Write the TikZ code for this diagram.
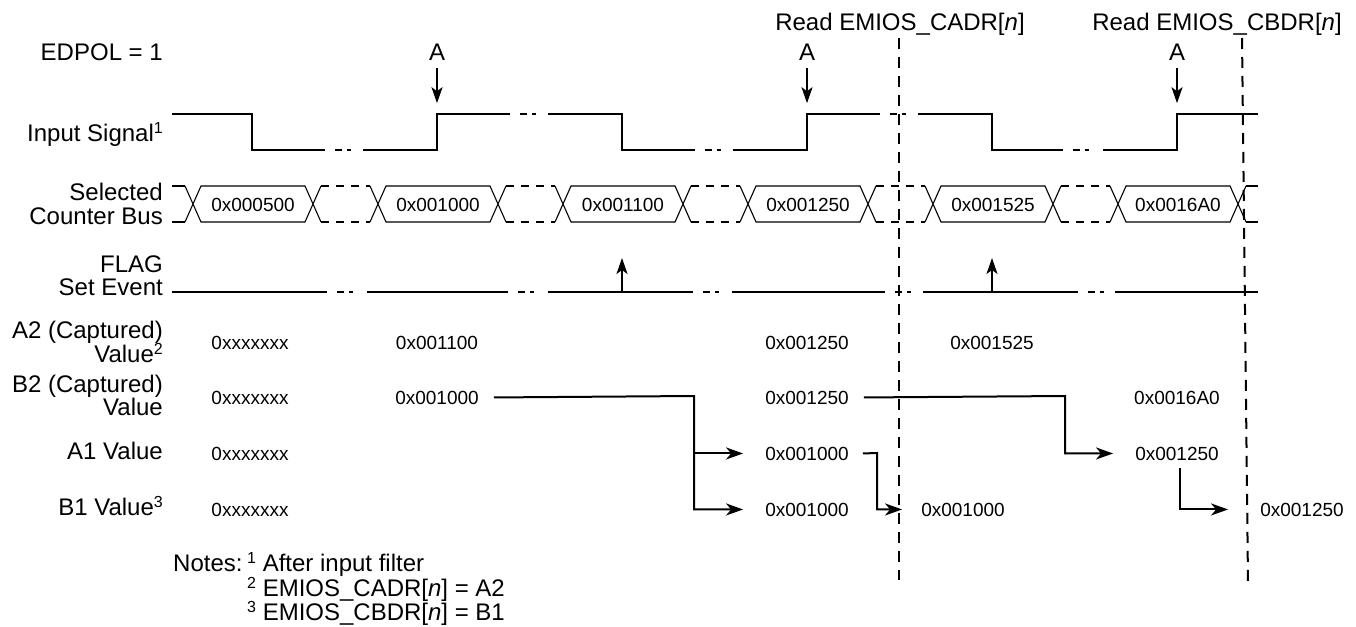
\documentclass[tikz,border=0pt]{standalone}
\usepackage{fontspec}
\setmainfont{Liberation Sans}
\usepackage{tikz}
\usetikzlibrary{calc,arrows.meta}

\newcommand{\supnum}[1]{\raisebox{8pt}{\fontsize{16}{16}\selectfont #1}}

\tikzset{
  lbl/.style={anchor=base east,inner sep=0pt,font=\fontsize{24}{26}\selectfont},
  note/.style={anchor=base west,inner sep=0pt,font=\fontsize{24}{26}\selectfont},
  val/.style={anchor=base,inner sep=0pt,font=\fontsize{19}{21}\selectfont},
  sig/.style={line width=2pt},
  bus/.style={line width=1.1pt},
  busdash/.style={bus,dash pattern=on 8pt off 7pt},
  rd/.style={line width=2pt,dash pattern=on 11pt off 8pt},
  tip/.style={-{Stealth[length=17pt,width=12pt,inset=5pt]}},
  tipsm/.style={-{Stealth[length=16pt,width=11pt,inset=4pt]}},
}

\begin{document}
\begin{tikzpicture}[x=1pt,y=-1pt]
  \useasboundingbox (0,0) rectangle (1356,626);

  % row labels
  \node[lbl] (edpol) at (163,60) {EDPOL = 1};
  \node[lbl] (insig) at (163,141) {Input Signal\supnum{1}};
  \node[lbl] (selbus) at (163,200) {Selected};
  \node[lbl] (selbus2) at (163,224) {Counter Bus};
  \node[lbl] (flag) at (163,272) {FLAG};
  \node[lbl] (flag2) at (163,295) {Set Event};
  \node[lbl] (capa) at (163,338) {A2 (Captured)};
  \node[lbl] (capa2) at (163,362) {Value\supnum{2}};
  \node[lbl] (capb) at (163,392) {B2 (Captured)};
  \node[lbl] (capb2) at (163,415) {Value};
  \node[lbl] (aone) at (163,459) {A1 Value};
  \node[lbl] (bone) at (163,515) {B1 Value\supnum{3}};

  % (I) input signal
  \draw[sig] (172,114) -| (252,150) -- (325,150);
  \draw[sig] (363,150) -| (437,114) -- (510,114);
  \draw[sig] (548,114) -| (622,150) -- (695,150);
  \draw[sig] (733,150) -| (807,114) -- (880,114);
  \draw[sig] (918,114) -| (992,150) -- (1063,150);
  \draw[sig] (1103,150) -| (1177,114) -- (1258,114);
  \foreach \a/\y in {325/150,510/114,695/150,880/114,1063/150}
    \draw[sig] (\a+10,\y) -- (\a+17,\y) (\a+22,\y) -- (\a+26,\y);
  \foreach \x [count=\i] in {437,807,1177}{
    \node[lbl,anchor=base] (edge\i) at (\x,60) {A};
    \draw[sig,tipsm] ([yshift=-8pt]edge\i.south) -- ++(0,35);
  }

  % (II) selected counter bus
  \draw[bus] (172,186) -- (185,186) (172,222) -- (185,222);
  \draw[bus] (1246,186) -- (1258,186) (1246,222) -- (1258,222);
  \foreach \k/\v in {0/0x000500,1/0x001000,2/0x001100,3/0x001250,4/0x001525,5/0x0016A0}{
    \pgfmathsetmacro\L{193+185*\k}
    \pgfmathsetmacro\R{\L+120}
    \draw[bus] (\L-8,186) -- (\L+8,222) -- (\R-8,222) -- (\R+8,186)
               (\L-8,222) -- (\L+8,186) -- (\R-8,186) -- (\R+8,222);
    \node[val] (bus\k) at (\L+60,211) {\v};
  }
  \foreach \k in {0,...,4}{
    \pgfmathsetmacro\R{313+185*\k}
    \draw[busdash] (\R+8,186) -- (\R+57,186) (\R+8,222) -- (\R+57,222);
  }

  % (III) flag set event
  \foreach \a/\b in {172/327,367/508,548/693,732/885,923/1078,1115/1258}
    \draw[sig] (\a,292) -- (\b,292);
  \foreach \a in {327,508,693,885,1078}
    \draw[sig] (\a+10,292) -- (\a+17,292) (\a+22,292) -- (\a+26,292);
  \foreach \x in {622,992}
    \draw[sig,tipsm] (\x,292) -- (\x,258);

  % (IV) captured values
  \node[val] (a2c1) at (250,349) {0xxxxxxx};
  \node[val] (a2c2) at (437,349) {0x001100};
  \node[val] (a2c3) at (807,349) {0x001250};
  \node[val] (a2c4) at (992,349) {0x001525};
  \node[val] (b2c1) at (250,404) {0xxxxxxx};
  \node[val] (b2c2) at (437,404) {0x001000};
  \node[val] (b2c3) at (807,404) {0x001250};
  \node[val] (b2c5) at (1177,404) {0x0016A0};
  \node[val] (a1c1) at (250,460) {0xxxxxxx};
  \node[val] (a1c3) at (807,460) {0x001000};
  \node[val] (a1c5) at (1177,460) {0x001250};
  \node[val] (b1c1) at (250,516) {0xxxxxxx};
  \node[val] (b1c3) at (807,516) {0x001000};
  \node[val] (b1c4) at (963,516) {0x001000};
  \node[val] (b1c6) at (1302,516) {0x001250};

  % transfers
  \coordinate (j1) at (694,396);
  \coordinate (j2) at (1065,396);
  \coordinate (j3) at (877,453);
  \draw[sig,tip] (b2c2.east) ++(15,0) -- (j1) |- ([xshift=-22pt]b1c3.west);
  \draw[sig,tip] (j1 |- a1c3.west) -- ([xshift=-22pt]a1c3.west);
  \draw[sig,tip] (b2c3.east) ++(15,0) -- (j2) |- ([xshift=-22pt]a1c5.west);
  \draw[sig,tip] (a1c3.east) ++(14,0) -- (j3) |- ([xshift=-19pt]b1c4.west);
  \draw[sig,tip] ([xshift=3pt,yshift=-8pt]a1c5.south) |- ([xshift=-32pt]b1c6.west);

  % register reads
  \node[lbl,anchor=base] (rdca) at (900,31) {Read EMIOS\_CADR[\textit{n}]};
  \node[lbl,anchor=base] (rdcb) at (1217,31) {Read EMIOS\_CBDR[\textit{n}]};
  \draw[rd] (899,38) -- (899,580);
  \draw[rd] (1242,38) -- (1248,583);

  % notes
  \node[note] (notes) at (173,571) {Notes:};
  \node[note] (n1) at (247,571) {\supnum{1} After input filter};
  \node[note] (n2) at (247,596) {\supnum{2} EMIOS\_CADR[\textit{n}] = A2};
  \node[note] (n3) at (247,620) {\supnum{3} EMIOS\_CBDR[\textit{n}] = B1};
\end{tikzpicture}
\end{document}
